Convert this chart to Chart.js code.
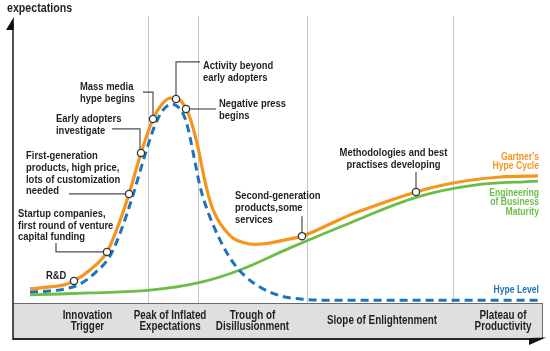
<!DOCTYPE html>
<html>
<head>
<meta charset="utf-8">
<script src="https://cdn.jsdelivr.net/npm/chart.js@4.4.1/dist/chart.umd.min.js"></script>
<style>
  html, body { margin: 0; padding: 0; background: #fff; }
  #wrap { width: 550px; height: 351px; position: relative; }
</style>
</head>
<body>
<div id="wrap"><canvas id="hype"></canvas></div>
<script>
// time runs 0..106, expectations 0..100
const hypeX = [3.4, 7.4, 10.4, 12.2, 15.4, 18.8, 21, 23.2, 25.6, 28, 29.8, 31.4, 32.6, 33.6, 34.6, 35.4, 36, 36.8, 37.4, 38, 38.8, 39.8, 41, 42.4, 44, 46, 48.4, 51.4, 54.4, 57.8, 63.4, 67.4, 73.4, 80.6, 88, 97.4, 105];
const hypeY = [4.9, 5.6, 6.4, 7.7, 11.5, 17.8, 26.8, 38.0, 52.3, 64.1, 69.3, 71.4, 71.3, 70.4, 67.6, 64.5, 61.0, 55.7, 50.9, 45.6, 39.4, 33.4, 28.9, 25.4, 22.6, 21.1, 20.4, 20.9, 22.0, 23.3, 27.5, 30.7, 34.5, 38.7, 41.8, 43.9, 44.3];

const levelX = [3.4, 7.4, 10.4, 13.4, 16.4, 19.4, 21.8, 24, 26.4, 28.4, 30, 31.8, 33.4, 34.6, 35.4, 36, 36.6, 37.2, 38, 39, 40.2, 41.4, 42.8, 44.4, 46.4, 48.4, 51.4, 54.4, 57.4, 61.4, 105];
const levelY = [3.8, 4.2, 4.9, 6.6, 10.5, 16.4, 26.1, 37.6, 51.6, 62.0, 67.2, 69.3, 67.6, 63.4, 57.8, 52.6, 47.4, 42.2, 36.9, 31.7, 26.5, 22.0, 17.4, 13.2, 9.4, 6.6, 3.8, 2.1, 1.4, 1.0, 1.0];

const maturityX = [3.4, 15.4, 27.4, 37, 45.4, 55.4, 67.4, 80.8, 92, 105];
const maturityY = [2.8, 3.5, 4.5, 7.0, 11.5, 19.2, 27.9, 36.9, 41.0, 42.5];

// milestones on the hype curve
const markerX = [12.2, 18.8, 23.2, 25.6, 28, 32.6, 34.6, 57.8, 80.6];
const markerY = [7.7, 17.8, 38.0, 52.3, 64.1, 71.1, 67.6, 23.3, 38.7];
const markerText = [
  ["R&D"],
  ["Startup companies,", "first round of venture", "capital funding"],
  ["First-generation", "products, high price,", "lots of customization", "needed"],
  ["Early adopters", "investigate"],
  ["Mass media", "hype begins"],
  ["Activity beyond", "early adopters"],
  ["Negative press", "begins"],
  ["Second-generation", "products,some", "services"],
  ["Methodologies and best", "practises developing"]
];

const phaseBounds = [27, 37, 58.8, 88];
const phaseNames = [
  ["Innovation", "Trigger"],
  ["Peak of Inflated", "Expectations"],
  ["Trough of", "Disillusionment"],
  ["Slope of Enlightenment"],
  ["Plateau of", "Productivity"]
];

const pts = (xs, ys) => xs.map((v, i) => ({ x: v, y: ys[i] }));

// text placement, px offsets from each marker
const noteLayout = [
  { dx: -28, dy: -5, align: "left", leader: null },
  { dx: -89, dy: -38, align: "left", leader: [[-51, 0], [-51, -9]] },
  { dx: -103, dy: -38, align: "left", leader: [[-60, 0]] },
  { dx: -85, dy: -34, align: "left", leader: [[-1, 0], [-1, -24], [-29, -24]] },
  { dx: -73, dy: -32, align: "left", leader: [[0, -27], [-10, -27]] },
  { dx: 27, dy: -33, align: "left", leader: [[0, -37], [24, -37]] },
  { dx: 33, dy: -5, align: "left", leader: [[30, 0]] },
  { dx: -67, dy: -40, align: "left", leader: [[0, -20]] },
  { dx: -22.5, dy: -39, align: "center", leader: [[0, -20]] }
];
const phaseNudge = [7, -3, 0, 2, 5];

const seriesLabels = [
  { lines: ["Gartner's", "Hype Cycle"], color: "#f7941d", y: 157 },
  { lines: ["Engineering", "of Business", "Maturity"], color: "#6cbd45", y: 193 },
  { lines: ["Hype Level"], color: "#1c75bc", y: 290 }
];

const FONT = '"Liberation Sans", Arial, sans-serif';
const NARROW = 0.82;
const INK = "#231f20";

// narrow text: Liberation Sans squeezed to about Arial Narrow width
function text(ctx, t, x, y) {
  ctx.save();
  ctx.translate(x, y);
  ctx.scale(NARROW, 1);
  ctx.fillText(t, 0, 0);
  ctx.restore();
}

const hypePlugin = {
  id: "hype",
  beforeDatasetsDraw(chart) {
    const { ctx, chartArea: a, scales: { x, y } } = chart;
    ctx.save();
    ctx.strokeStyle = "#c6c6c6";
    ctx.lineWidth = 1;
    phaseBounds.forEach(b => {
      const px = Math.round(x.getPixelForValue(b)) + 0.5;
      ctx.beginPath();
      ctx.moveTo(px, a.top);
      ctx.lineTo(px, a.bottom);
      ctx.stroke();
    });
    ctx.strokeStyle = "#4d4d4d";
    ctx.lineWidth = 1.2;
    noteLayout.forEach((n, i) => {
      if (!n.leader) return;
      const mx = x.getPixelForValue(markerX[i]);
      const my = y.getPixelForValue(markerY[i]);
      ctx.beginPath();
      ctx.moveTo(mx, my);
      n.leader.forEach(([dx, dy]) => ctx.lineTo(mx + dx, my + dy));
      ctx.stroke();
    });
    ctx.restore();
  },
  afterDraw(chart) {
    const { ctx, chartArea: a, scales: { x, y } } = chart;
    ctx.save();

    // phase band under the axis
    const bandTop = a.bottom, bandBot = a.bottom + 36;
    ctx.fillStyle = "#dfdfdf";
    ctx.fillRect(a.left, bandTop, a.right - a.left, bandBot - bandTop);
    ctx.strokeStyle = "#6b6b6b";
    ctx.lineWidth = 1;
    ctx.beginPath();
    ctx.moveTo(a.left, bandTop + 0.5);
    ctx.lineTo(a.right, bandTop + 0.5);
    ctx.moveTo(a.right - 0.5, bandTop);
    ctx.lineTo(a.right - 0.5, bandBot);
    ctx.stroke();
    ctx.strokeStyle = "#2a2a2a";
    ctx.lineWidth = 2;
    ctx.beginPath();
    ctx.moveTo(a.left, bandBot);
    ctx.lineTo(a.right - 12, bandBot);
    ctx.stroke();
    ctx.fillStyle = "#111";
    ctx.beginPath();
    ctx.moveTo(a.right - 14, bandBot - 1);
    ctx.lineTo(a.right + 3, bandBot - 1.5);
    ctx.lineTo(a.right - 14, bandBot + 6);
    ctx.closePath();
    ctx.fill();

    // y axis with arrow
    ctx.strokeStyle = "#1a1a1a";
    ctx.lineWidth = 1.5;
    ctx.beginPath();
    ctx.moveTo(a.left, 24);
    ctx.lineTo(a.left, bandBot + 1);
    ctx.stroke();
    ctx.beginPath();
    ctx.moveTo(a.left + 0.8, 17);
    ctx.lineTo(a.left + 0.8, 30);
    ctx.lineTo(a.left - 7, 30);
    ctx.closePath();
    ctx.fill();

    ctx.fillStyle = INK;
    ctx.textBaseline = "middle";
    ctx.textAlign = "left";
    ctx.font = "bold 13px " + FONT;
    text(ctx, "expectations", 7, 8);

    // phase names, centred in each phase
    const edges = [x.min, ...phaseBounds, x.max];
    ctx.font = "bold 12px " + FONT;
    ctx.textAlign = "center";
    phaseNames.forEach((lines, i) => {
      const cx = x.getPixelForValue((edges[i] + edges[i + 1]) / 2) + phaseNudge[i];
      const y0 = (bandTop + bandBot) / 2 - (lines.length - 1) * 5.75;
      lines.forEach((t, k) => text(ctx, t, cx, y0 + k * 11.5));
    });

    // milestone notes
    ctx.font = "bold 11.5px " + FONT;
    noteLayout.forEach((n, i) => {
      const mx = x.getPixelForValue(markerX[i]);
      const my = y.getPixelForValue(markerY[i]);
      ctx.textAlign = n.align;
      markerText[i].forEach((t, k) => text(ctx, t, mx + n.dx, my + n.dy + k * 11.7));
    });

    // series names on the right
    ctx.font = "bold 10.5px " + FONT;
    ctx.textAlign = "right";
    seriesLabels.forEach(s => {
      ctx.fillStyle = s.color;
      s.lines.forEach((t, k) => text(ctx, t, a.right - 4, s.y + k * 9.6));
    });
    ctx.restore();
  }
};

new Chart(document.getElementById("hype"), {
  type: "line",
  data: {
    datasets: [
      {
        type: "scatter",
        data: pts(markerX, markerY),
        pointRadius: 3.6,
        pointBorderWidth: 1.3,
        pointBackgroundColor: "#fff",
        pointBorderColor: "#333",
        order: 0
      },
      {
        data: pts(levelX, levelY),
        borderColor: "#1c75bc",
        borderWidth: 3,
        borderDash: [8, 5],
        pointRadius: 0,
        cubicInterpolationMode: "monotone",
        order: 1
      },
      {
        data: pts(hypeX, hypeY),
        borderColor: "#f7941d",
        borderWidth: 3.2,
        pointRadius: 0,
        cubicInterpolationMode: "monotone",
        order: 2
      },
      {
        data: pts(maturityX, maturityY),
        borderColor: "#6cbd45",
        borderWidth: 2.8,
        pointRadius: 0,
        tension: 0.4,
        order: 3
      }
    ]
  },
  options: {
    responsive: true,
    maintainAspectRatio: false,
    animation: false,
    layout: { padding: { left: 13, right: 7, top: 16, bottom: 48 } },
    plugins: { legend: { display: false }, tooltip: { enabled: false } },
    scales: {
      x: { type: "linear", min: 0, max: 106, display: false },
      y: { min: 0, max: 100, display: false }
    }
  },
  plugins: [hypePlugin]
});
</script>
</body>
</html>
